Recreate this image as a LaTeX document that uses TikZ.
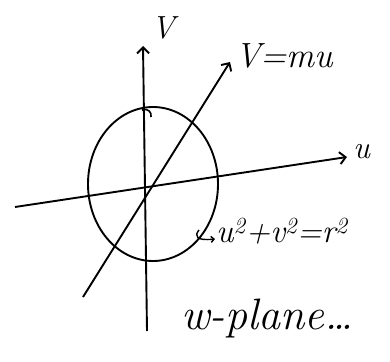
\documentclass[tikz,border=0pt]{standalone}
\usepackage{fontspec}
\usetikzlibrary{arrows.meta}
\begin{document}
\begin{tikzpicture}[x=1pt,y=-1pt,
  ax/.style={line width=1.9pt,-{Straight Barb[length=6pt,width=12pt]}},
  lbl/.style={inner sep=1pt}]
\useasboundingbox (0,0) rectangle (390,361);
% axes
\coordinate (vb) at (147,331);
\coordinate (vt) at (143,46);
\coordinate (ul) at (15,207);
\coordinate (ur) at (347,157);
\coordinate (db) at (83,297);
\coordinate (dt) at (230,62);
\draw[ax] (vb) -- (vt);
\draw[ax] (ul) -- (ur);
\draw[ax] (db) -- (dt);
% circle
\draw[line width=1.9pt] (153,184) ellipse [x radius=65, y radius=77];
\draw[line width=1.6pt] (142,110) .. controls (148,108) and (152,112) .. (151,117);
% labels
\node[lbl, font=\fontsize{32}{36}\selectfont\itshape] (vlab) at (163,28) {V};
\node[lbl, anchor=west, font=\fontsize{32}{36}\selectfont\itshape] (ulab) at (352,152) {u};
\node[lbl, anchor=west, font=\fontsize{35}{38}\selectfont\itshape] (mlab) at (234,56) {V=mu};
\coordinate (hk) at (199,230);
\node[lbl, anchor=west, font=\fontsize{33}{36}\selectfont\itshape] (clab) at (215,231) {u\textsuperscript{2}+v\textsuperscript{2}=r\textsuperscript{2}};
\draw[line width=1.4pt,-{Straight Barb[length=3pt,width=6pt]}] (hk) .. controls (194,236) and (196,241) .. (clab.west |- 0,239);
\node[lbl, anchor=west, font=\fontsize{44}{48}\selectfont\itshape] (wlab) at (180,318) {w-plane\dots};
\end{tikzpicture}
\end{document}
